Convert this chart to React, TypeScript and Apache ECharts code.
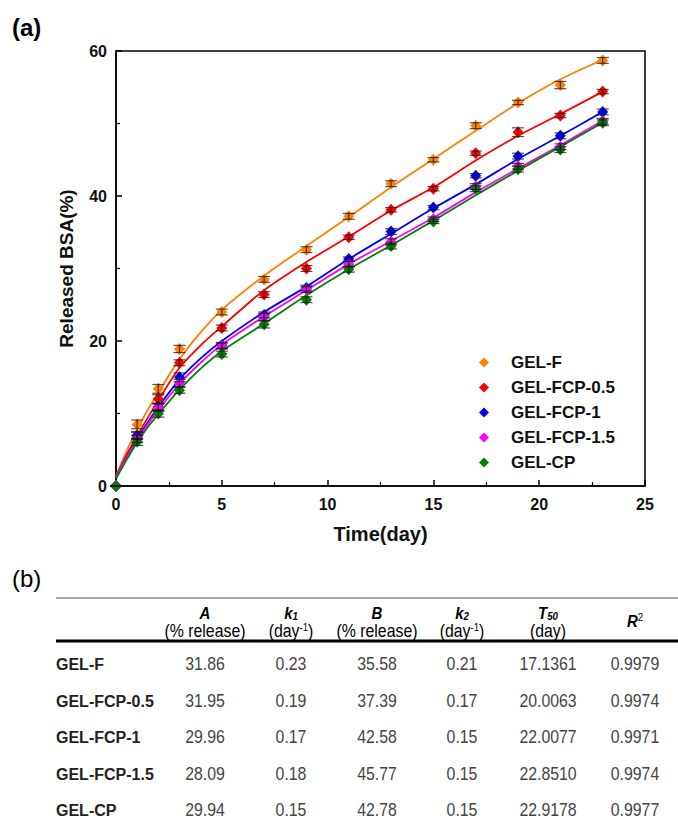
import React, { useEffect, useRef } from "react";
import * as echarts from "echarts";

// ---------- data ----------
const days = [0, 1, 2, 3, 5, 7, 9, 11, 13, 15, 17, 19, 21, 23];
const seriesNames = ["GEL-F", "GEL-FCP-0.5", "GEL-FCP-1", "GEL-FCP-1.5", "GEL-CP"];
const colors = ["#ff8000", "#ff0000", "#0000ff", "#ff00ff", "#008000"];

const relF = [0, 8.5, 13.4, 18.9, 24.0, 28.5, 32.6, 37.2, 41.7, 45.0, 49.7, 52.9, 55.3, 58.7];
const relFCP05 = [0, 7.0, 12.0, 17.0, 21.8, 26.4, 30.0, 34.3, 38.1, 41.0, 45.9, 48.8, 51.1, 54.4];
const relFCP1 = [0, 6.9, 10.9, 15.0, 19.4, 23.6, 27.3, 31.3, 35.1, 38.4, 42.8, 45.5, 48.3, 51.6];
const relFCP15 = [0, 6.5, 10.8, 14.2, 19.3, 23.3, 27.1, 30.6, 33.7, 36.8, 41.3, 44.1, 46.8, 50.3];
const relCP = [0, 6.1, 10.0, 13.2, 18.2, 22.3, 25.7, 29.9, 33.1, 36.5, 41.0, 43.7, 46.4, 50.1];

const errF = [0, 0.6, 0.6, 0.5, 0.4, 0.4, 0.4, 0.4, 0.4, 0.3, 0.4, 0.3, 0.5, 0.4];
const errFCP05 = [0, 0.5, 0.6, 0.4, 0.4, 0.4, 0.4, 0.3, 0.3, 0.3, 0.3, 0.6, 0.3, 0.3];
const errFCP1 = [0, 0.5, 0.5, 0.6, 0.4, 0.4, 0.4, 0.3, 0.4, 0.3, 0.3, 0.4, 0.4, 0.4];
const errFCP15 = [0, 0.5, 0.5, 0.5, 0.4, 0.5, 0.4, 0.4, 0.4, 0.3, 0.4, 0.4, 0.4, 0.4];
const errCP = [0, 0.5, 0.5, 0.4, 0.4, 0.5, 0.4, 0.4, 0.4, 0.3, 0.4, 0.4, 0.4, 0.4];

// fitted curves
const fitDays = [0, 0.5, 1, 1.5, 2, 3, 4, 5, 7, 9, 11, 13, 15, 17, 19, 21, 23];
const fitF = [1.3, 4.8, 7.8, 10.5, 12.9, 17.5, 21.2, 24.3, 29.0, 33.1, 37.1, 41.2, 45.1, 49.0, 52.8, 56.1, 58.8];
const fitFCP05 = [1.3, 4.3, 6.9, 9.4, 11.8, 16.3, 19.4, 22.0, 27.0, 30.9, 34.4, 38.0, 41.2, 44.9, 48.3, 51.3, 54.4];
const fitFCP1 = [1.2, 4.0, 6.5, 8.8, 10.9, 14.7, 17.6, 20.0, 24.0, 27.5, 31.3, 34.8, 38.3, 41.6, 45.1, 48.3, 51.6];
const fitFCP15 = [1.2, 3.9, 6.3, 8.5, 10.5, 14.1, 17.0, 19.5, 23.4, 27.0, 30.6, 33.8, 37.0, 40.5, 43.8, 47.0, 50.4];
const fitCP = [1.0, 3.6, 6.0, 8.1, 9.9, 13.3, 16.2, 18.6, 22.4, 26.3, 29.9, 33.2, 36.6, 40.1, 43.5, 46.8, 50.1];

const released = [relF, relFCP05, relFCP1, relFCP15, relCP];
const errors = [errF, errFCP05, errFCP1, errFCP15, errCP];
const fits = [fitF, fitFCP05, fitFCP1, fitFCP15, fitCP];

// table (b)
const tableRows = ["GEL-F", "GEL-FCP-0.5", "GEL-FCP-1", "GEL-FCP-1.5", "GEL-CP"];
const colA = [31.86, 31.95, 29.96, 28.09, 29.94];
const colK1 = [0.23, 0.19, 0.17, 0.18, 0.15];
const colB = [35.58, 37.39, 42.58, 45.77, 42.78];
const colK2 = [0.21, 0.17, 0.15, 0.15, 0.15];
const colT50 = [17.1361, 20.0063, 22.0077, 22.851, 22.9178];
const colR2 = [0.9979, 0.9974, 0.9971, 0.9974, 0.9977];
const colDecimals = [2, 2, 2, 2, 4, 4];
const headers = [
  "{s|A}\n{u|(% release)}",
  "{s|k}{sb|1}\n{u|(day}{sp|-1}{u|)}",
  "{s|B}\n{u|(% release)}",
  "{s|k}{sb|2}\n{u|(day}{sp|-1}{u|)}",
  "{s|T}{sb|50}\n{u|(day)}",
  "{s|R}{sp|2}",
];

const SANS = "'Liberation Sans', Arial, Helvetica, sans-serif";

export default function App() {
  const ref = useRef<HTMLDivElement>(null);

  useEffect(() => {
    document.body.style.margin = "0";
    if (!ref.current) return;
    const chart = echarts.init(ref.current, undefined, { renderer: "svg" });

    const series: any[] = [];
    fits.forEach((f, i) => {
      series.push({
        type: "line",
        name: "fit " + seriesNames[i],
        data: fitDays.map((d, j) => [d, f[j]]),
        smooth: 0.3,
        showSymbol: false,
        symbol: "none",
        lineStyle: { color: colors[i], width: 1.8 },
        z: 2,
        silent: true,
      });
    });
    released.forEach((r, i) => {
      series.push({
        type: "scatter",
        name: seriesNames[i],
        data: days.map((d, j) => [d, r[j]]),
        symbol: "diamond",
        symbolSize: [11, 12],
        itemStyle: { color: colors[i], opacity: 1 },
        z: 3,
      });
      series.push({
        type: "custom",
        name: "err " + seriesNames[i],
        data: days.map((d, j) => [d, r[j] - errors[i][j], r[j] + errors[i][j]]),
        encode: { x: 0, y: [1, 2] },
        silent: true,
        z: 4,
        renderItem: (params: any, api: any) => {
          const x = api.value(0);
          const lo = api.coord([x, api.value(1)]);
          const hi = api.coord([x, api.value(2)]);
          const w = 6;
          const st = { stroke: "rgba(20,20,20,0.75)", lineWidth: 1.2 };
          return {
            type: "group",
            children: [
              { type: "line", shape: { x1: lo[0], y1: lo[1], x2: hi[0], y2: hi[1] }, style: st },
              { type: "line", shape: { x1: lo[0] - w, y1: lo[1], x2: lo[0] + w, y2: lo[1] }, style: st },
              { type: "line", shape: { x1: hi[0] - w, y1: hi[1], x2: hi[0] + w, y2: hi[1] }, style: st },
            ],
          };
        },
      });
    });

    // table graphics
    const colX = [205, 291, 377, 462, 548, 635];
    const rowY = [664, 701, 737.5, 774, 810];
    const columns = [colA, colK1, colB, colK2, colT50, colR2];
    const rich = {
      s: { fontFamily: SANS, fontSize: 17, fontWeight: "bold", fontStyle: "italic", color: "#111", lineHeight: 18 },
      sb: { fontFamily: SANS, fontSize: 11, fontWeight: "bold", fontStyle: "italic", color: "#111", lineHeight: 18, verticalAlign: "bottom" },
      sp: { fontFamily: SANS, fontSize: 11, color: "#444", lineHeight: 18, verticalAlign: "top" },
      u: { fontFamily: SANS, fontSize: 18, color: "#444", lineHeight: 18 },
    };
    const graphic: any[] = [
      { type: "text", x: 12, y: 27, style: { text: "(a)", fontFamily: SANS, fontSize: 24, fontWeight: "bold", fill: "#000", verticalAlign: "middle" } },
      { type: "text", x: 12, y: 578, style: { text: "(b)", fontFamily: SANS, fontSize: 24, fill: "#000", verticalAlign: "middle" } },
      { type: "line", shape: { x1: 56, y1: 598, x2: 678, y2: 598 }, style: { stroke: "#888", lineWidth: 1.5 } },
      { type: "line", shape: { x1: 56, y1: 641, x2: 678, y2: 641 }, style: { stroke: "#000", lineWidth: 3 } },
    ];
    headers.forEach((h, c) => {
      graphic.push({
        type: "text",
        x: colX[c],
        y: c === 5 ? 621 : 622,
        scaleX: 0.88,
        style: { text: h, rich, align: "center", verticalAlign: "middle" },
      });
    });
    tableRows.forEach((name, r) => {
      graphic.push({
        type: "text",
        x: 56,
        y: rowY[r],
        style: { text: name, fontFamily: SANS, fontSize: 16, fontWeight: "bold", fill: "#222", verticalAlign: "middle" },
      });
      columns.forEach((col, c) => {
        graphic.push({
          type: "text",
          x: colX[c],
          y: rowY[r],
          scaleX: 0.88,
          style: {
            text: col[r].toFixed(colDecimals[c]),
            fontFamily: SANS,
            fontSize: 18,
            fill: "#444",
            align: "center",
            verticalAlign: "middle",
          },
        });
      });
    });

    const axisCommon = {
      type: "value",
      axisLine: { show: true, lineStyle: { color: "#000", width: 1.5 } },
      axisTick: { show: true, inside: true, length: 6, lineStyle: { color: "#000", width: 1.5 } },
      minorTick: { show: true, splitNumber: 2, length: 4, lineStyle: { color: "#000", width: 1.2 } },
      splitLine: { show: false },
      minorSplitLine: { show: false },
      axisLabel: { fontFamily: SANS, fontSize: 16, fontWeight: "bold", color: "#111" },
      nameLocation: "middle",
      nameTextStyle: { fontFamily: SANS, fontWeight: "bold", color: "#111" },
    };

    chart.setOption({
      animation: false,
      backgroundColor: "#fff",
      grid: { left: 116, top: 51, width: 529, height: 435, show: true, borderColor: "#000", borderWidth: 1.5, containLabel: false },
      xAxis: {
        ...axisCommon,
        min: 0,
        max: 25,
        interval: 5,
        axisLabel: { ...axisCommon.axisLabel, margin: 10 },
        name: "Time(day)",
        nameGap: 38,
        nameTextStyle: { ...axisCommon.nameTextStyle, fontSize: 20 },
      },
      yAxis: {
        ...axisCommon,
        min: 0,
        max: 60,
        interval: 20,
        axisLabel: { ...axisCommon.axisLabel, margin: 9 },
        name: "Released BSA(%)",
        nameGap: 40,
        nameTextStyle: { ...axisCommon.nameTextStyle, fontSize: 19 },
      },
      legend: {
        data: seriesNames,
        orient: "vertical",
        left: 474,
        top: 349,
        itemWidth: 10,
        itemHeight: 10,
        itemGap: 8,
        icon: "diamond",
        textStyle: { fontFamily: SANS, fontSize: 17, fontWeight: "bold", color: "#111", lineHeight: 16, padding: [0, 0, 0, 17] },
      },
      series,
      graphic,
    });

    return () => chart.dispose();
  }, []);

  return <div ref={ref} style={{ width: 678, height: 836 }} />;
}
